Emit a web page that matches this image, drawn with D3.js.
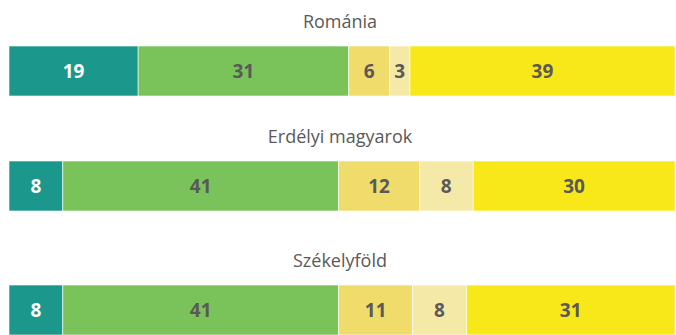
<!DOCTYPE html>
<html>
<head>
<meta charset="utf-8">
<script src="https://cdn.jsdelivr.net/npm/d3@7"></script>
<style>
  html, body { margin: 0; padding: 0; background: #fff; }
  svg { display: block; }
</style>
</head>
<body>
<svg id="chart" width="676" height="335"></svg>
<script>
// Groups shown as separate 100% stacked bars
const groups = ["Románia", "Erdélyi magyarok", "Székelyföld"];

// Answer shares per group (percent), in stacking order
const seg1 = [19, 8, 8];
const seg2 = [31, 41, 41];
const seg3 = [6, 12, 11];
const seg4 = [3, 8, 8];
const seg5 = [39, 30, 31];

const series = [seg1, seg2, seg3, seg4, seg5];
const colors = ["#1b978b", "#7ac35b", "#f0dc6b", "#f5e9a8", "#f8e81a"];
const labelColors = ["#ffffff", "#595959", "#595959", "#595959", "#595959"];

const svg = d3.select("#chart");
const left = 9, right = 675;
const barTops = [46, 161, 285];
const barH = 50;

groups.forEach((g, gi) => {
  const values = series.map(s => s[gi]);
  const total = d3.sum(values);
  const x = d3.scaleLinear().domain([0, total]).range([left, right]);

  let acc = 0;
  const segs = values.map((v, i) => {
    const s = { v, i, x0: acc, x1: acc + v };
    acc += v;
    return s;
  });

  const row = svg.append("g");

  row.append("text")
    .attr("x", 340)
    .attr("y", barTops[gi] - 18)
    .attr("text-anchor", "middle")
    .attr("font-family", "'Open Sans', sans-serif")
    .attr("font-size", 18)
    .attr("fill", "#595959")
    .text(g);

  row.selectAll("rect")
    .data(segs)
    .join("rect")
    .attr("x", d => x(d.x0))
    .attr("y", barTops[gi])
    .attr("width", d => x(d.x1) - x(d.x0))
    .attr("height", barH)
    .attr("fill", d => colors[d.i])
    .attr("stroke", "#ffffff")
    .attr("stroke-width", 0.6);

  row.selectAll("text.val")
    .data(segs)
    .join("text")
    .attr("class", "val")
    .attr("x", d => (x(d.x0) + x(d.x1)) / 2)
    .attr("y", barTops[gi] + barH / 2)
    .attr("dy", "0.36em")
    .attr("text-anchor", "middle")
    .attr("font-family", "'Open Sans', sans-serif")
    .attr("font-weight", "bold")
    .attr("font-size", 19)
    .attr("fill", d => labelColors[d.i])
    .text(d => d.v);
});
</script>
</body>
</html>
